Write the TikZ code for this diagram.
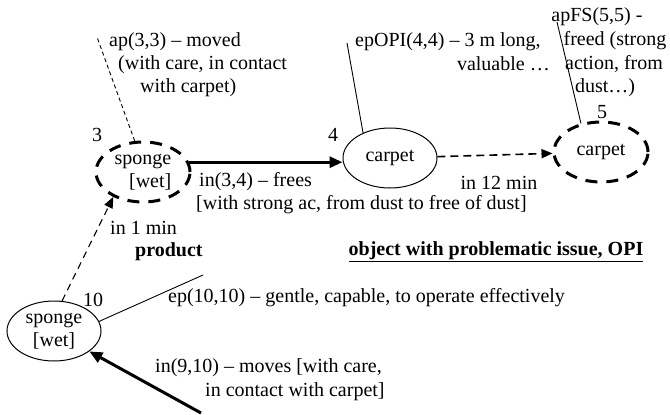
\documentclass[tikz,border=0pt]{standalone}
\usepackage{fontspec}
\setmainfont{Liberation Serif}
\usetikzlibrary{shapes.geometric,arrows.meta}
\begin{document}
\begin{tikzpicture}[x=1pt,y=-1pt,
  every node/.style={font=\fontsize{20}{23}\selectfont},
  lbl/.style={inner sep=0pt,anchor=west},
  num/.style={inner sep=0pt},
  oval/.style={ellipse,draw,line width=1pt,minimum width=94pt,minimum height=60pt,inner sep=0pt},
  dashoval/.style={oval,line width=3pt,dash pattern=on 12pt off 9pt},
  thin/.style={line width=0.9pt},
  bigarrow/.style={line width=3pt,-{Triangle[length=13pt,width=11pt]}},
  dasharrow/.style={line width=1.6pt,dash pattern=on 8pt off 5pt,-{Triangle[length=11pt,width=9pt]}},
  thindasharrow/.style={line width=1.1pt,dash pattern=on 7pt off 5pt,-{Triangle[length=11pt,width=9pt]}}
]
\useasboundingbox (0,0) rectangle (670,415);

% nodes
\node[dashoval,align=right] (s3) at (143,172) {sponge\\{}[wet]};
\node[oval] (c4) at (390,158) {carpet};
\node[dashoval] (c5) at (601,152) {carpet};
\node[oval,align=center] (s10) at (54,331) {sponge\\{}[wet]};

% free ends
\coordinate (apend) at (97,37);
\coordinate (epopiend) at (347,43);
\coordinate (apfsend) at (557,22);
\coordinate (ep10end) at (203,275);
\coordinate (in910start) at (201,413);

% numbers
\node[num] (n3) at (97,135) {3};
\node[num] (n4) at (333,135) {4};
\node[num] (n5) at (602,112) {5};
\node[num] (n10) at (93,300) {10};

% connectors
\draw[bigarrow] (s3.12) -- (s3.12 -| c4.west);
\draw[dasharrow] (c4) -- (c5);
\draw[thindasharrow] (s10.75) -- (s3.220);
\draw[bigarrow] (in910start) -- (s10.330);
\draw[thin,dash pattern=on 4pt off 3pt] (s3.105) -- (apend);
\draw[thin] (c4.137) -- (epopiend);
\draw[thin] (c5.125) -- (apfsend);
\draw[thin] (s10.12) -- (ep10end);

% labels
\node[lbl] (ap1) at (109,42) {ap(3,3) – moved};
\node[lbl] (ap2) at (118,65) {(with care, in contact};
\node[lbl] (ap3) at (140,88) {with carpet)};

\node[lbl] (epopi1) at (355,42) {epOPI(4,4) – 3 m long,};
\node[inner sep=0pt,anchor=east] (epopi2) at (550,64) {valuable …};

\node[num] (apfs1) at (597,17) {apFS(5,5) -};
\node[num] (apfs2) at (615,41) {freed (strong};
\node[num] (apfs3) at (614,64) {action, from};
\node[num] (apfs4) at (605,88) {dust…)};

\node[lbl] (in34a) at (199,182) {in(3,4) – frees};
\node[lbl] (in34b) at (196,205) {[with strong ac, from dust to free of dust]};
\node[num] (in12) at (499,183) {in 12 min};

\node[lbl] (in1) at (110,228) {in 1 min};
\node[lbl] (prod) at (135,252) {\bfseries product};
\node[num] (opi) at (496,252) {\bfseries\underline{object with problematic issue, OPI}};

\node[lbl] (ep10) at (168,298) {ep(10,10) – gentle, capable, to operate effectively};

\node[lbl] (in910a) at (155,368) {in(9,10) – moves [with care,};
\node[lbl] (in910b) at (205,392) {in contact with carpet]};
\end{tikzpicture}
\end{document}
